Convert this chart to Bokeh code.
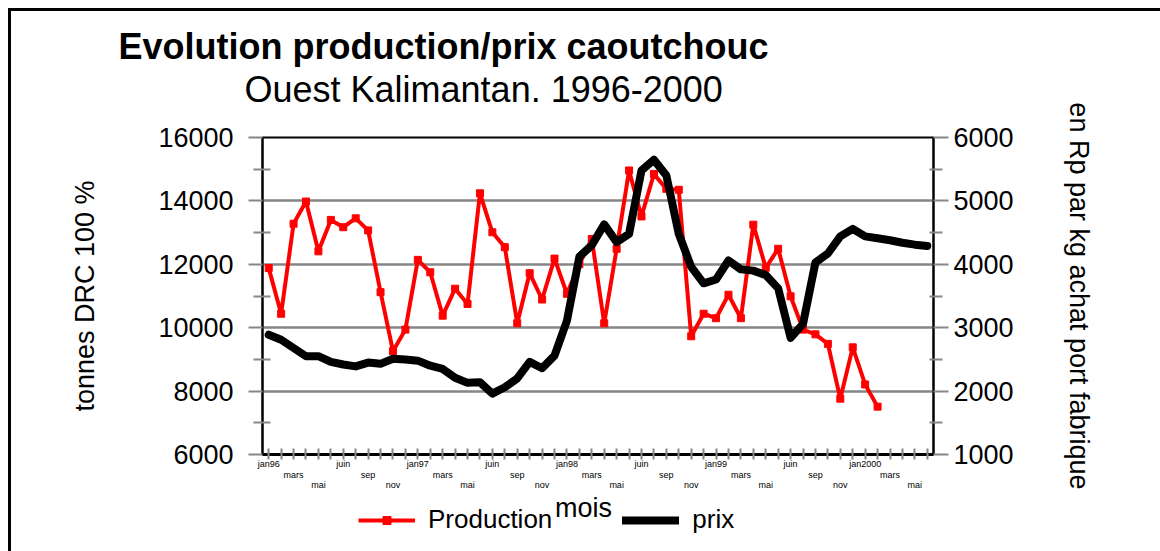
from bokeh.plotting import figure
from bokeh.layouts import column
from bokeh.models import (Range1d, LinearAxis, FixedTicker, Title, Label,
                          ColumnDataSource, Legend, LegendItem)
from bokeh.embed import file_html
from bokeh.resources import INLINE

# ---------------- data ----------------
production = [11880, 10440, 13280, 13980, 12410, 13400, 13170, 13450, 13070, 11120,
              9260, 9940, 12140, 11750, 10380, 11230, 10750, 14240, 13010, 12540,
              10140, 11720, 10890, 12180, 11070, 12000, 12800, 10140, 12490, 14960,
              13510, 14850, 14380, 14350, 9730, 10440, 10300, 11040, 10300, 13250,
              11890, 12490, 10990, 9940, 9790, 9490, 7760, 9380, 8210, 7510]

prix = [2890, 2810, 2680, 2550, 2550, 2460, 2420, 2390, 2450, 2430,
        2510, 2500, 2480, 2400, 2350, 2210, 2130, 2140, 1960, 2060,
        2200, 2460, 2360, 2560, 3110, 4120, 4300, 4630, 4350, 4480,
        5480, 5650, 5400, 4480, 3960, 3700, 3760, 4060, 3920, 3900,
        3830, 3620, 2840, 3060, 4030, 4170, 4440, 4560, 4440, 4410,
        4380, 4340, 4310, 4290]

n_months = 54
month_labels = ["jan96", "mars", "mai", "juin", "sep", "nov",
                "jan97", "mars", "mai", "juin", "sep", "nov",
                "jan98", "mars", "mai", "juin", "sep", "nov",
                "jan99", "mars", "mai", "juin", "sep", "nov",
                "jan2000", "mars", "mai"]

left_ticks = [6000, 8000, 10000, 12000, 14000, 16000]
right_ticks = [1000, 2000, 3000, 4000, 5000, 6000]

title_text = "Evolution production/prix caoutchouc"
subtitle_text = "Ouest Kalimantan. 1996-2000"
left_label = "tonnes DRC 100 %"
right_label = "en Rp par kg achat port fabrique"
x_label = "mois"
series_names = ["Production", "prix"]

# ---------------- style ----------------
FONT = "Liberation Sans"
GRID = "#868686"
RED = "#ff0000"
FRAME_W, FRAME_H = 671, 317
BORDER_L, BORDER_R = 251, 227

p = figure(frame_width=FRAME_W, frame_height=FRAME_H,
           min_border_left=BORDER_L, min_border_right=BORDER_R,
           min_border_top=126, min_border_bottom=33,
           x_range=Range1d(-0.5, n_months - 0.5),
           y_range=Range1d(left_ticks[0], left_ticks[-1]),
           output_backend="svg", toolbar_location=None)
p.extra_y_ranges = {"prix": Range1d(right_ticks[0], right_ticks[-1])}
p.background_fill_color = "white"
p.border_fill_color = "white"
p.outline_line_color = "black"
p.outline_line_width = 2

# titles: p.above panels stack outward from the frame, p.title is outermost
p.add_layout(Title(text=" ", text_font=FONT, text_font_size="20px",
                   standoff=4), "above")
p.add_layout(Title(text=subtitle_text, text_font=FONT, text_font_size="36px",
                   text_font_style="normal", text_color="black",
                   align="left", offset=-18, standoff=0), "above")
p.title.text = title_text
p.title.text_font = FONT
p.title.text_font_size = "36px"
p.title.text_font_style = "bold"
p.title.text_color = "black"
p.title.align = "left"
p.title.offset = -144
p.title.standoff = 0

# grid
p.xgrid.visible = False
p.ygrid.ticker = FixedTicker(ticks=left_ticks)
p.ygrid.grid_line_color = GRID
p.ygrid.grid_line_width = 2.5

def mids(t):
    return [(a + b) / 2 for a, b in zip(t[:-1], t[1:])]

def style_y(ax, tick_out, tick_in_minor, label_standoff, title_standoff, title):
    ax.axis_line_color = "black"
    ax.axis_line_width = 2
    ax.major_tick_line_color = GRID
    ax.major_tick_line_width = 2
    ax.major_tick_out = tick_out
    ax.major_tick_in = 0
    ax.minor_tick_line_color = GRID
    ax.minor_tick_line_width = 2
    ax.minor_tick_out = 9
    ax.minor_tick_in = tick_in_minor
    ax.major_label_text_font = FONT
    ax.major_label_text_font_size = "27px"
    ax.major_label_text_color = "black"
    ax.major_label_standoff = label_standoff
    ax.axis_label = title
    ax.axis_label_text_font = FONT
    ax.axis_label_text_font_size = "27px"
    ax.axis_label_text_font_style = "normal"
    ax.axis_label_text_color = "black"
    ax.axis_label_standoff = title_standoff

ya = p.yaxis[0]
ya.ticker = FixedTicker(ticks=left_ticks, minor_ticks=mids(left_ticks))
style_y(ya, 14, 8, 15, 55, left_label)

ra = LinearAxis(y_range_name="prix",
                ticker=FixedTicker(ticks=right_ticks, minor_ticks=mids(right_ticks)))
style_y(ra, 15, 4, 5, 47, right_label)
p.add_layout(ra, "right")

# x axis: monthly ticks, labels every two months on three staggered rows
label_ticks = [2 * i for i in range(len(month_labels))]

xa = p.xaxis[0]
xa.ticker = FixedTicker(ticks=list(range(n_months)))
xa.axis_line_color = "black"
xa.axis_line_width = 3
xa.major_tick_line_color = GRID
xa.major_tick_line_width = 2
xa.major_tick_in = 6
xa.major_tick_out = 5

axes_rows = [xa]
for r in (1, 2):
    ax = LinearAxis(ticker=FixedTicker(ticks=[label_ticks[i] for i in range(len(month_labels)) if i % 3 == r]))
    ax.axis_line_color = None
    ax.major_tick_line_color = None
    ax.major_tick_in = 0
    ax.major_tick_out = 0
    ax.minor_tick_line_color = None
    p.add_layout(ax, "below")
    axes_rows.append(ax)

row_standoffs = [-1, -2, -3]
for r, ax in enumerate(axes_rows):
    overrides = {t: "" for t in range(n_months)}
    for i, lab in enumerate(month_labels):
        if i % 3 == r:
            overrides[label_ticks[i]] = lab
    ax.major_label_overrides = overrides
    ax.major_label_text_font = FONT
    ax.major_label_text_font_size = "9px"
    ax.major_label_text_color = "black"
    ax.major_label_standoff = row_standoffs[r]

# series
src_p = ColumnDataSource(dict(x=list(range(len(production))), y=production))
src_x = ColumnDataSource(dict(x=list(range(len(prix))), y=prix))
p.line("x", "y", source=src_p, line_color=RED, line_width=4)
p.scatter("x", "y", source=src_p, marker="square", size=7,
          fill_color=RED, line_color=RED)
p.line("x", "y", source=src_x, y_range_name="prix", line_color="black",
       line_width=8, line_join="round", line_cap="round")

# ---------------- bottom strip: axis title + legend ----------------
STRIP_H = 59
p2 = figure(frame_width=FRAME_W, frame_height=STRIP_H,
            min_border_left=BORDER_L, min_border_right=BORDER_R,
            min_border_top=0, min_border_bottom=0,
            x_range=Range1d(0, FRAME_W), y_range=Range1d(0, STRIP_H),
            x_axis_type=None, y_axis_type=None,
            output_backend="svg", toolbar_location=None)
p2.outline_line_color = None
p2.background_fill_color = "white"
p2.border_fill_color = "white"
p2.xgrid.visible = False
p2.ygrid.visible = False

# legend proxies: same series, they fall outside this strip's ranges
l1 = p2.line("x", "y", source=src_p, line_color=RED, line_width=4)
l1m = p2.scatter("x", "y", source=src_p, marker="square", size=7,
                 fill_color=RED, line_color=RED)
l2 = p2.line("x", "y", source=src_x, line_color="black", line_width=8,
             line_cap="round")

p2.add_layout(Label(x=321, y=44, text=x_label, text_font=FONT,
                    text_font_size="27px", text_align="center",
                    text_baseline="alphabetic", text_color="black"))

legend = Legend(items=[LegendItem(label=series_names[0], renderers=[l1, l1m]),
                       LegendItem(label=series_names[1], renderers=[l2])],
                location=(96, 16), orientation="horizontal",
                padding=0, margin=0, spacing=70, label_standoff=13,
                glyph_width=57, glyph_height=20,
                label_text_font=FONT, label_text_font_size="26px",
                label_text_color="black",
                border_line_alpha=0, background_fill_alpha=0)
p2.add_layout(legend)

layout = column(p, p2, spacing=0)
layout.styles = {"margin-left": "8px", "margin-top": "8px",
                 "border-top": "3px solid black", "border-left": "3px solid black"}

open("out.html", "w").write(file_html(layout, INLINE))
